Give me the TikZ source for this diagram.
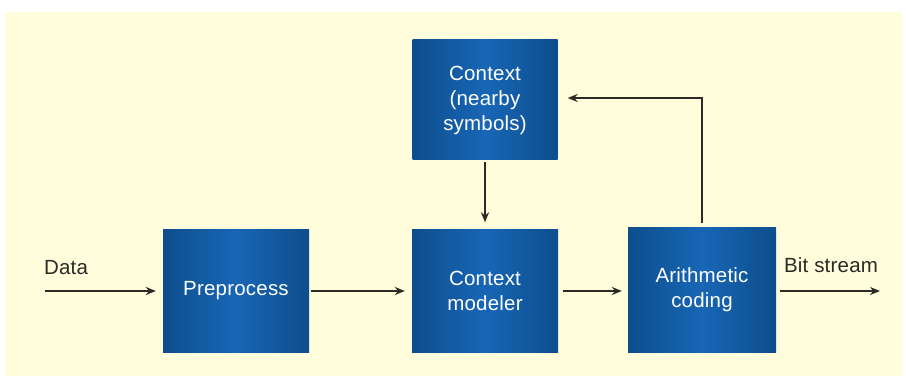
\documentclass[tikz,border=0pt]{standalone}
\usepackage{fontspec}
\setmainfont{Liberation Sans}[LetterSpace=1]
\usetikzlibrary{arrows.meta}

\definecolor{paper}{HTML}{FFFDDC}
\definecolor{boxedge}{HTML}{0D4E8C}
\definecolor{boxmid}{HTML}{1866B6}
\definecolor{ink}{HTML}{2A2A26}

\tikzset{
  block/.style={rectangle, minimum width=146pt, minimum height=123pt,
    left color=boxedge, right color=boxedge, middle color=boxmid,
    text=white, align=center, inner sep=0pt},
  flow/.style={draw=ink, line width=1.7pt, -{Stealth[length=10pt,width=8pt]}},
  label/.style={text=ink, inner sep=0pt}
}

\begin{document}
\begin{tikzpicture}[x=1pt, y=-1pt, font=\fontsize{20.5}{25}\selectfont]

\useasboundingbox (0,0) rectangle (906,379);
\fill[white] (0,0) rectangle (906,379);
\fill[paper] (5,12) rectangle (902,376);

\node[block] (pre) at (236,291) {Preprocess};
\node[block] (ctx) at (485,100) [minimum height=120pt, minimum width=145pt] {Context\\(nearby\\symbols)};
\node[block] (mod) at (485,291) {Context\\modeler};
\node[block] (ari) at (702,290) [minimum height=125pt, minimum width=148pt] {Arithmetic\\coding};

\node[label] (din) at (66,268) {Data};
\node[label] (bout) at (831,265) {Bit stream};

\coordinate (src) at (45,291);
\coordinate (snk) at (880,291);
\coordinate (turn) at (702,98);

\draw[flow, shorten >=7pt] (src) -- (src -| pre.west);
\draw[flow, shorten <=2pt, shorten >=7pt] (pre.east) -- (pre.east -| mod.west);
\draw[flow, shorten <=5pt, shorten >=6pt] (mod.east |- src) -- (src -| ari.west);
\draw[flow, shorten <=4pt] (ari.east |- snk) -- (snk);
\draw[flow, shorten <=2pt, shorten >=7pt] (ctx.south) -- (mod.north);

% feedback from the coder back to the context
\draw[flow, shorten <=4pt, shorten >=10pt] (ari.north) -- (turn) -- (turn -| ctx.east);

\end{tikzpicture}
\end{document}
